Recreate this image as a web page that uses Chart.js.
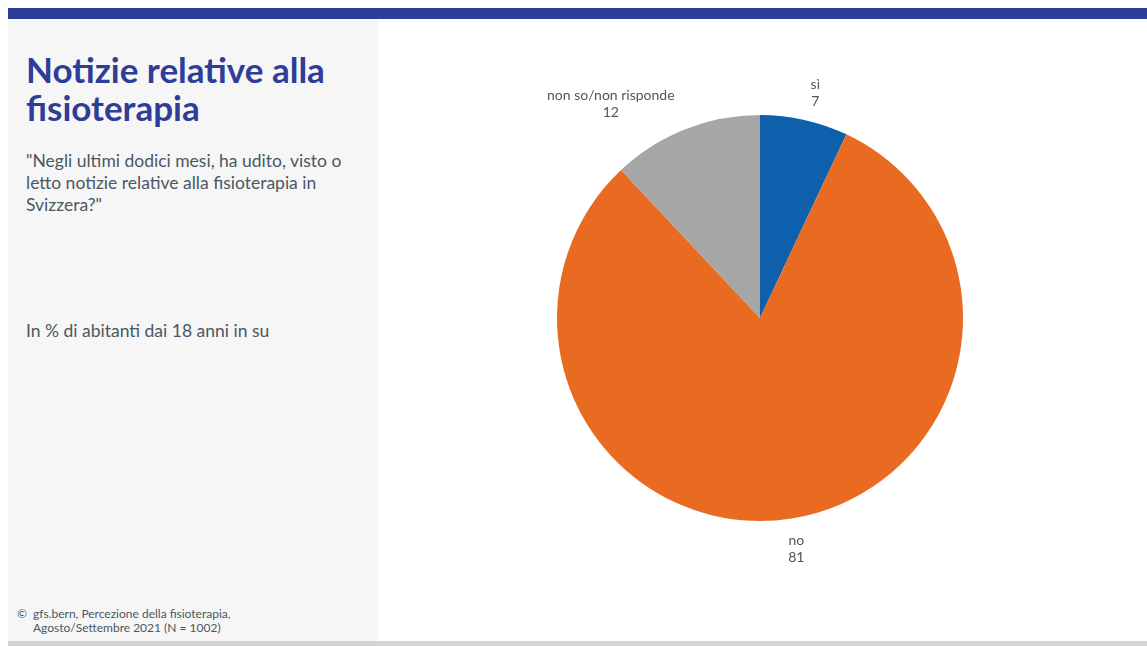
<!DOCTYPE html>
<html lang="it">
<head>
<meta charset="utf-8">
<script src="https://cdn.jsdelivr.net/npm/chart.js@4.4.1/dist/chart.umd.min.js"></script>
<style>
html,body{margin:0;padding:0;background:#fff;}
body{width:1147px;height:646px;position:relative;overflow:hidden;font-family:"Lato","Noto Sans",sans-serif;}
#fascia{position:absolute;left:8px;top:8px;width:1139px;height:11px;background:#2e3d98;}
#pannello{position:absolute;left:8px;top:19px;width:370px;height:622px;background:#f6f6f6;}
#base{position:absolute;left:8px;top:641px;width:1139px;height:5px;background:#d4d4d4;}
#titolo{position:absolute;left:26px;top:50px;margin:0;font-size:35px;line-height:38px;font-weight:700;color:#2e3d98;}
#domanda{position:absolute;left:26px;top:150px;width:345px;margin:0;font-size:17.5px;line-height:22px;color:#4b5763;}
#base_campione{position:absolute;left:26px;top:320px;margin:0;font-size:17.5px;line-height:22px;color:#4b5763;}
#fonte{position:absolute;left:17px;top:607px;margin:0;font-size:12px;line-height:14px;color:#4b5763;}
#fonte span{display:inline-block;width:16px;}
#area{position:absolute;left:378px;top:19px;width:769px;height:622px;}
</style>
</head>
<body>
<div id="fascia"></div>
<div id="pannello"></div>
<div id="base"></div>
<h1 id="titolo">Notizie relative alla<br>fisioterapia</h1>
<p id="domanda">"Negli ultimi dodici mesi, ha udito, visto o letto notizie relative alla fisioterapia in Svizzera?"</p>
<p id="base_campione">In % di abitanti dai 18 anni in su</p>
<p id="fonte"><span>©</span>gfs.bern, Percezione della fisioterapia,<br><span></span>Agosto/Settembre 2021 (N = 1002)</p>
<div id="area"><canvas id="torta"></canvas></div>
<script>
const risposte = ["sì", "no", "non so/non risponde"];
const percentuali = [7, 81, 12];
const colori = ["#0e60ad", "#e96b22", "#a6a6a6"];

// etichette fuori dalla torta: nome sopra, valore sotto
const etichetteEsterne = {
id:"etichetteEsterne",
afterDatasetsDraw(chart){
const ctx = chart.ctx;
const archi = chart.getDatasetMeta(0).data;
ctx.save();
ctx.font = "14px Lato, 'Noto Sans', sans-serif";
ctx.fillStyle = "#4b5763";
ctx.textBaseline = "middle";
archi.forEach((arco, i)=>{
const medio = (arco.startAngle + arco.endAngle) / 2;
const r = arco.outerRadius + 29;
const x = arco.x + Math.cos(medio) * r;
const y = arco.y + Math.sin(medio) * r + 1.5;
const righe = [chart.data.labels[i], String(percentuali[i])];
const larghezza = Math.max(...righe.map(t => ctx.measureText(t).width));
let cx = x;
const dx = Math.cos(medio);
if(dx > 0.2) cx = x + larghezza / 2;
else if(dx < -0.2) cx = x - larghezza / 2;
ctx.textAlign = "center";
ctx.fillText(righe[0], cx, y - 8.5);
ctx.fillText(righe[1], cx, y + 8.5);
});
ctx.restore();
}
};

new Chart(document.getElementById("torta"), {
type:"pie",
data:{
labels:risposte,
datasets:[{
data:percentuali,
backgroundColor:colori,
borderWidth:0
}]
},
options:{
responsive:true,
maintainAspectRatio:false,
animation:false,
layout:{padding:{top:96,bottom:120,left:179,right:184}},
plugins:{legend:{display:false},tooltip:{enabled:false}}
},
plugins:[etichetteEsterne]
});
</script>
</body>
</html>
